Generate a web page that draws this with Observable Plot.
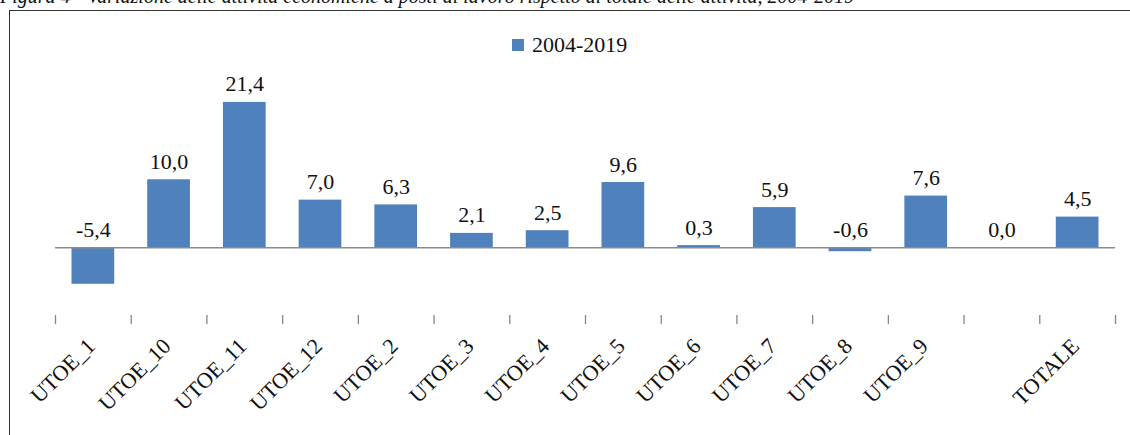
<!DOCTYPE html>
<html>
<head>
<meta charset="utf-8">
<script src="https://cdn.jsdelivr.net/npm/d3@7"></script>
<script src="https://cdn.jsdelivr.net/npm/@observablehq/plot@0.6"></script>
<style>
  html, body { margin: 0; padding: 0; background: #fff; }
  body { width: 1130px; height: 435px; overflow: hidden; position: relative; font-family: "Liberation Serif", "DejaVu Serif", serif; }
  #title { position: absolute; left: 0px; top: -15px; font-size: 20px; font-style: italic; white-space: nowrap; color: #111; }
  #frame { position: absolute; left: 9px; top: 10px; width: 1200px; height: 500px; border: 1.6px solid #333; box-sizing: border-box; }
  #legend { position: absolute; top: 32px; left: 512px; font-size: 22px; color: #111; display: flex; align-items: center; }
  #legend .sw { display: inline-block; width: 12px; height: 12px; margin-right: 8px; }
  #chart { position: absolute; left: 0; top: 60px; }
</style>
</head>
<body>
<div id="title">Figura 4 - Variazione delle attività economiche a posti di lavoro rispetto al totale delle attività, 2004-2019</div>
<div id="frame"></div>
<div id="legend"></div>
<div id="chart"></div>
<script>
const categories = ["UTOE_1","UTOE_10","UTOE_11","UTOE_12","UTOE_2","UTOE_3","UTOE_4","UTOE_5","UTOE_6","UTOE_7","UTOE_8","UTOE_9","","TOTALE"];
const values = [-5.4, 10.0, 21.4, 7.0, 6.3, 2.1, 2.5, 9.6, 0.3, 5.9, -0.6, 7.6, 0.0, 4.5];
const seriesName = "2004-2019";
const barColor = "#4F81BD";

const data = categories.map((c, i) => ({cat: c, value: values[i]}));
const fmt = v => v.toFixed(1).replace(".", ",");

const W = 1130, H = 375, mL = 55, mR = 15, mT = 17.5, mB = 120;
const step = (W - mL - mR) / categories.length;
const font = "Liberation Serif, DejaVu Serif, serif";

const legend = document.getElementById("legend");
legend.innerHTML = `<span class="sw" style="background:${barColor}"></span><span>${seriesName}</span>`;

const chart = Plot.plot({
  width: W,
  height: H,
  marginLeft: mL,
  marginRight: mR,
  marginTop: mT,
  marginBottom: mB,
  style: {fontFamily: font, background: "transparent", overflow: "visible"},
  x: {domain: categories, paddingInner: 0.436, paddingOuter: 0.218, round: false, axis: null, label: null},
  y: {domain: [-10, 25], axis: null, label: null},
  marks: [
    Plot.barY(data, {x: "cat", y: "value", fill: barColor}),
    Plot.ruleY([0], {stroke: "#8c8c8c", strokeWidth: 1.5}),
    Plot.text(data, {x: "cat", y: d => Math.max(0, d.value), text: d => fmt(d.value), lineAnchor: "bottom", dy: -11, fontSize: 22, fill: "#111", fontFamily: font}),
    Plot.axisX({tickSize: 9, text: null, label: null, dx: -step / 2, stroke: "#888", strokeWidth: 1.3}),
    Plot.axisX({ticks: [categories[categories.length - 1]], tickSize: 9, text: null, label: null, dx: step / 2, stroke: "#888", strokeWidth: 1.3}),
    Plot.axisX({tickSize: 0, tickPadding: 27, tickRotate: -45, fontSize: 22, fill: "#111", fontFamily: font, dx: -2, label: null})
  ]
});
document.getElementById("chart").appendChild(chart);
</script>
</body>
</html>
